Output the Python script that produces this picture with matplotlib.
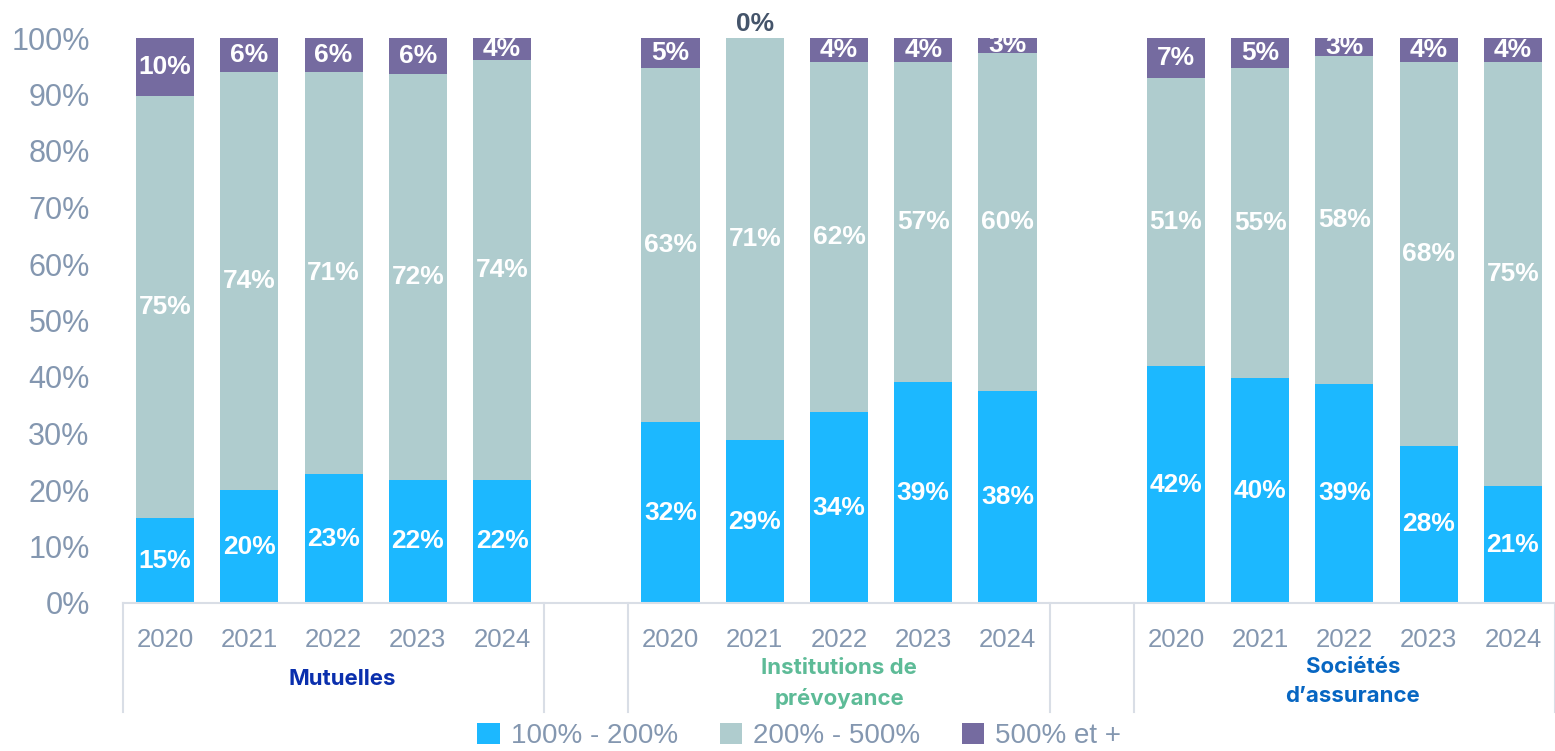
import matplotlib
matplotlib.use('Agg')
import matplotlib.pyplot as plt
import matplotlib.transforms as mtransforms
import numpy as np

plt.rcParams['font.family'] = ['Liberation Sans', 'DejaVu Sans']

# Data (percent shares)
years = ['2020', '2021', '2022', '2023', '2024']
groups = ['Mutuelles', 'Institutions de\nprévoyance', 'Sociétés\nd\u2019assurance']
group_colors = ['#0A2FAD', '#5DBB97', '#0766C2']

low_mut = [15.0, 20.0, 22.8, 21.8, 21.8]
mid_mut = [74.7, 74.0, 71.2, 71.8, 74.3]
high_mut = [10.3, 6.0, 6.0, 6.4, 3.9]

low_ip = [32.0, 28.8, 33.8, 39.1, 37.6]
mid_ip = [62.7, 71.2, 62.0, 56.7, 59.8]
high_ip = [5.3, 0.0, 4.2, 4.2, 2.6]

low_sa = [41.9, 39.8, 38.8, 27.8, 20.7]
mid_sa = [51.0, 54.9, 58.0, 68.0, 75.1]
high_sa = [7.1, 5.3, 3.2, 4.2, 4.2]

series_names = ['100% - 200%', '200% - 500%', '500% et +']
series_colors = ['#1CB8FF', '#AFCCCE', '#756BA0']

# Layout: 5 bars, empty slot, 5 bars, empty slot, 5 bars
low = low_mut + [np.nan] + low_ip + [np.nan] + low_sa
mid = mid_mut + [np.nan] + mid_ip + [np.nan] + mid_sa
high = high_mut + [np.nan] + high_ip + [np.nan] + high_sa
labels = years + [''] + years + [''] + years
x = np.arange(len(labels))

fig = plt.figure(figsize=(15.55, 7.51), dpi=100)
ax = fig.add_axes([123 / 1555, 1 - 603 / 751, 1 - 123 / 1555, (603 - 38) / 751])

width = 0.69
bottom = np.zeros(len(x))
for vals, color, name in zip([low, mid, high], series_colors, series_names):
    v = np.nan_to_num(np.array(vals, dtype=float))
    ax.bar(x, v, width, bottom=bottom, color=color, label=name)
    for xi, vi, bi, raw in zip(x, v, bottom, vals):
        if np.isnan(raw):
            continue
        if vi > 0:
            ax.text(xi, bi + vi / 2, f'{vi:.0f}%', ha='center', va='center',
                    color='white', fontsize=19, fontweight='bold', clip_on=False)
        else:
            ax.text(xi, bi + 2.5, '0%', ha='center', va='center',
                    color='#44546A', fontsize=19, fontweight='bold', clip_on=False)
    bottom = bottom + v

ax.set_xlim(-0.5, len(x) - 0.5)
ax.set_ylim(0, 100)
ax.set_yticks(np.arange(0, 101, 10))
ax.set_yticklabels([f'{t}%' for t in range(0, 101, 10)])
ax.set_xticks(x)
ax.set_xticklabels(labels)
ax.tick_params(axis='y', length=0, labelsize=22, labelcolor='#8497B0', pad=24)
ax.tick_params(axis='x', length=0, labelsize=18.5, labelcolor='#8497B0', pad=18)

for side in ['top', 'right', 'left']:
    ax.spines[side].set_visible(False)
ax.spines['bottom'].set_color('#D9DEE6')
ax.spines['bottom'].set_linewidth(1.5)

# group separators below the axis
trans = mtransforms.blended_transform_factory(ax.transData, ax.transAxes)
for bx in [-0.5, 4.5, 5.5, 10.5, 11.5, 16.5]:
    ax.plot([bx, bx], [0, -0.193], transform=trans, color='#D9DEE6',
            linewidth=1.5, clip_on=False)

# group names
group_x = [2.1, 8.0, 14.1]
group_y = [-0.135, -0.142, -0.139]
for gx, gy, name, c in zip(group_x, group_y, groups, group_colors):
    ax.text(gx, gy, name, transform=trans, ha='center', va='center',
            color=c, fontsize=16, fontweight='bold', family=['Inter', 'DejaVu Sans'],
            linespacing=1.6)

fig.legend(loc='center', bbox_to_anchor=(0.514, 0.02), ncol=3, frameon=False,
           fontsize=20, labelcolor='#8497B0', handlelength=0.8, handleheight=0.8,
           handletextpad=0.4, columnspacing=1.5)

plt.savefig('out.png', dpi=100)
